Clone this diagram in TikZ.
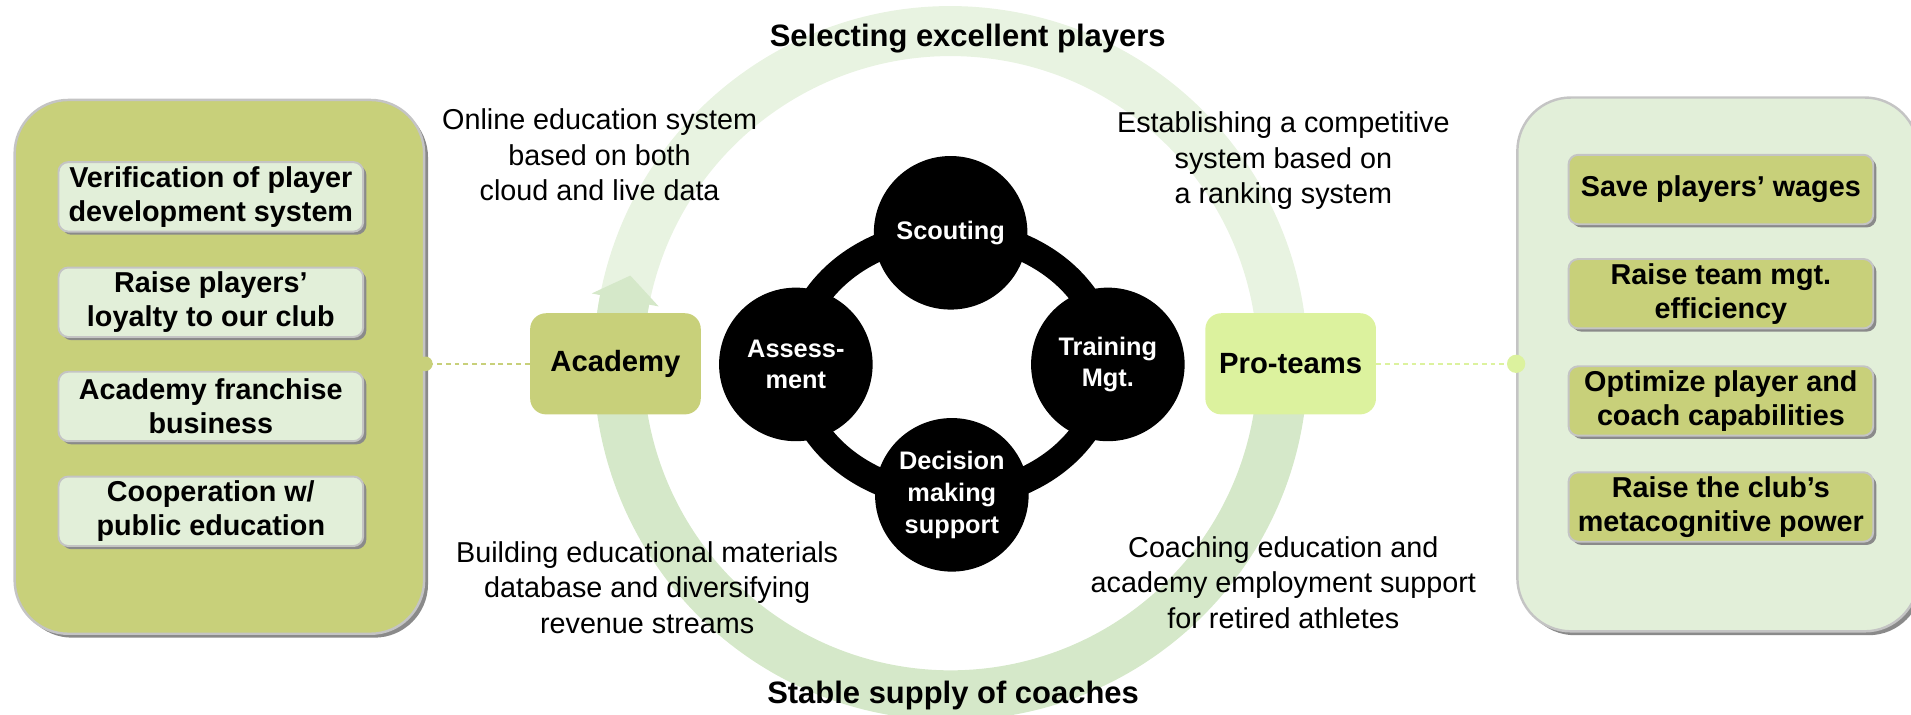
\documentclass[tikz,border=0pt]{standalone}
\usepackage{fontspec}
\setmainfont{Liberation Sans}
\usetikzlibrary{calc,shadows}

\definecolor{olive}{HTML}{C8D07A}
\definecolor{pale}{HTML}{E2EFD9}
\definecolor{lime}{HTML}{DCF29E}
\definecolor{ringtop}{HTML}{E8F3E1}
\definecolor{ringbot}{HTML}{D5E8C9}
\definecolor{edgegray}{HTML}{C4C4C4}
\definecolor{shadowgray}{HTML}{8A8A8A}

\begin{document}
\begin{tikzpicture}[x=0.5pt,y=-0.5pt,
  panel/.style={rounded corners=22pt, draw=edgegray, line width=1pt, inner sep=0pt,
    minimum height=219pt,
    drop shadow={shadow xshift=1.6pt, shadow yshift=-1.6pt, fill=shadowgray, opacity=1}},
  item/.style={rounded corners=4pt, draw=edgegray, line width=0.8pt, inner sep=0pt,
    minimum width=125pt, minimum height=28.5pt, align=center,
    font=\fontsize{11.8}{14}\selectfont\bfseries,
    drop shadow={shadow xshift=1.3pt, shadow yshift=-1.3pt, fill=shadowgray, opacity=1}},
  hub/.style={rounded corners=6.5pt, inner sep=0pt, minimum width=70pt, minimum height=41.5pt,
    font=\fontsize{12}{14}\selectfont\bfseries},
  spoke/.style={circle, fill=black, text=white, minimum size=63pt, inner sep=0pt, align=center,
    font=\fontsize{10.4}{13}\selectfont\bfseries},
  note/.style={align=center, inner sep=0pt, font=\fontsize{11.8}{14.5}\selectfont},
  headline/.style={inner sep=0pt, font=\fontsize{12.7}{15}\selectfont\bfseries},
  link/.style={dash pattern=on 2pt off 1.6pt, line width=0.6pt},
]
\useasboundingbox (0,0) rectangle (1568,586);
\clip (0,0) rectangle (1568,586);

% circular cycle arrow around the core
\coordinate (C) at (780,298);
\fill[ringtop] ($(C)+(-172:293)$) arc[start angle=-172, end angle=3, radius=293]
  -- ($(C)+(3:252)$) arc[start angle=3, end angle=-172, radius=252] -- cycle;
\fill[ringbot] ($(C)+(3:293)$) arc[start angle=3, end angle=191, radius=293]
  -- ($(C)+(191:300)$) -- ($(C)+(195.3:272.5)$) -- ($(C)+(191:244)$)
  -- ($(C)+(191:252)$) arc[start angle=191, end angle=3, radius=252] -- cycle;

% core loop of four functions
\draw[line width=11pt] (780,299) ellipse [x radius=128, y radius=108];
\node[spoke] (scout)  at (780,191) {Scouting};
\node[spoke] (assess) at (653,299) {Assess-\\ment};
\node[spoke] (train)  at (909,299) {Training\\Mgt.};
\node[spoke] (decide) at (781,406) {Decision\\making\\support};

% left panel
\node[panel, fill=olive, minimum width=168pt] (lpanel) at (180,301) {};
\node[item, fill=pale] (l1) at (173,161.5) {Verification of player\\development system};
\node[item, fill=pale] (l2) at (173,248)   {Raise players’\\loyalty to our club};
\node[item, fill=pale] (l3) at (173,333.5) {Academy franchise\\business};
\node[item, fill=pale] (l4) at (173,419.5) {Cooperation w/\\public education};

% right panel
\node[panel, fill=pale, minimum width=164.5pt] (rpanel) at (1409.5,299) {};
\node[item, fill=olive] (r1) at (1412,155.5) {Save players’ wages};
\node[item, fill=olive] (r2) at (1412,241)   {Raise team mgt.\\efficiency};
\node[item, fill=olive] (r3) at (1412,329)   {Optimize player and\\coach capabilities};
\node[item, fill=olive] (r4) at (1412,416)   {Raise the club’s\\metacognitive power};

% hubs and their links to the panels
\node[hub, fill=olive] (academy) at (505,298.5) {Academy};
\node[hub, fill=lime]  (pro)     at (1059,298.5) {Pro-teams};
\coordinate (ldot) at (academy.west -| lpanel.east);
\coordinate (rdot) at (pro.east -| rpanel.west);
\draw[link, olive] (academy.west) -- (ldot);
\fill[olive] (ldot) circle[radius=6];
\draw[link, lime] (pro.east) -- (rdot);
\fill[lime] (rdot) circle[radius=7.5];

% annotations
\node[note] (n1) at (492,127) {Online education system\\based on both\\cloud and live data};
\node[note] (n2) at (1053,132) {Establishing a competitive\\system based on\\a ranking system};
\node[note] (n3) at (531,482) {Building educational materials\\database and diversifying\\revenue streams};
\node[note] (n4) at (1053,478) {Coaching education and\\academy employment support\\for retired athletes};

\node[headline] (top) at (794,32)  {Selecting excellent players};
\node[headline] (bot) at (782,571) {Stable supply of coaches};
\end{tikzpicture}
\end{document}
